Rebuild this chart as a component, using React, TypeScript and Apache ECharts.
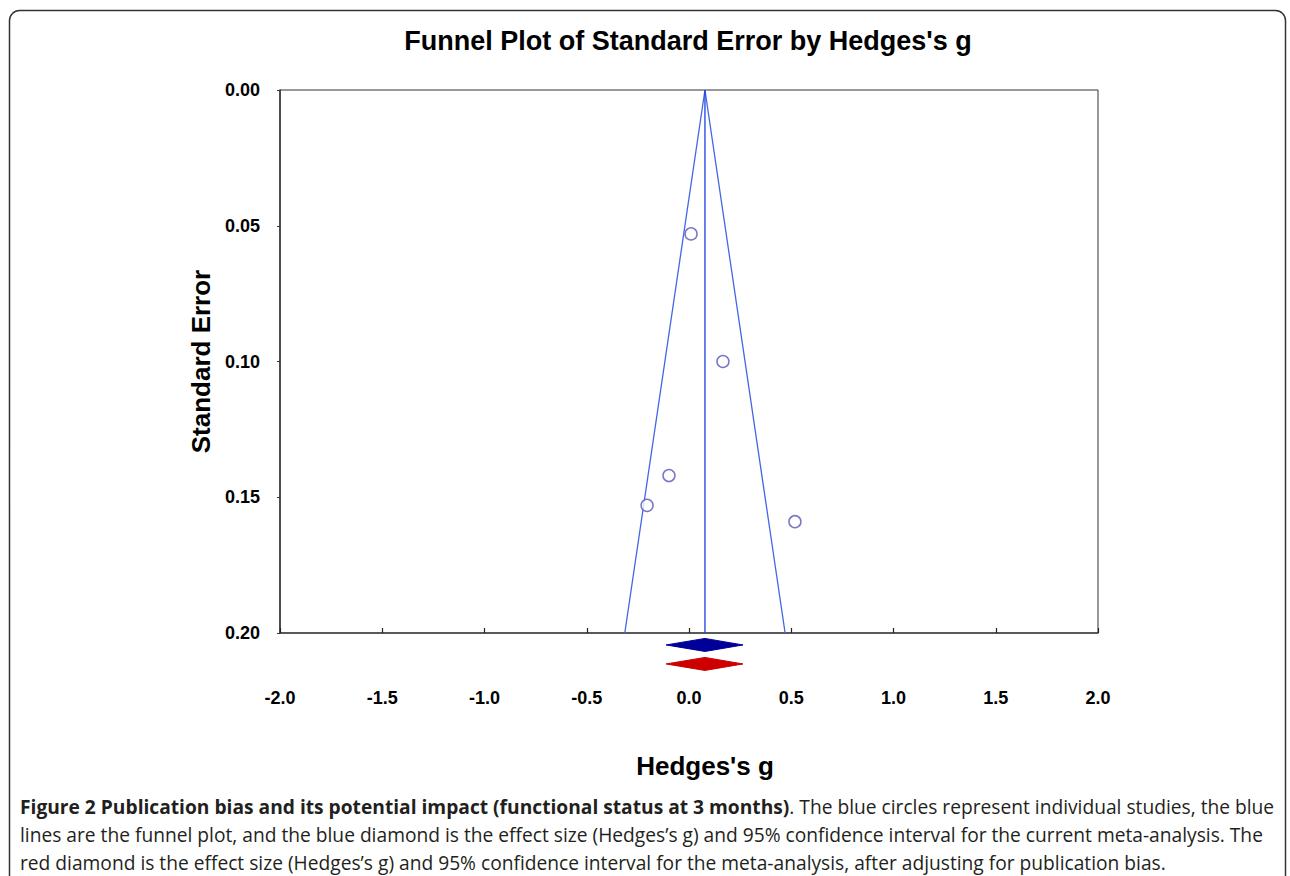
import React, { useEffect, useRef } from "react";
import * as echarts from "echarts";

const titleText = "Funnel Plot of Standard Error by Hedges's g";
const xTicks = [-2, -1.5, -1, -0.5, 0, 0.5, 1, 1.5, 2];
// studies: [Hedges's g, standard error]
const studyG = [0.01, 0.166, -0.098, -0.205, 0.518];
const studySE = [0.053, 0.1, 0.142, 0.153, 0.159];
const pooledG = 0.078;
const funnelSE = 0.2;
// diamonds: [lower, point, upper, row position]
const observedDiamond = [-0.112, 0.078, 0.264, 0.2044];
const adjustedDiamond = [-0.112, 0.078, 0.264, 0.2114];
const captionBold = "Figure 2 Publication bias and its potential impact (functional status at 3 months)";
const captionLines = [
  ". The blue circles represent individual studies, the blue",
  "lines are the funnel plot, and the blue diamond is the effect size (Hedges\u2019s g) and 95% confidence interval for the current meta-analysis. The",
  "red diamond is the effect size (Hedges\u2019s g) and 95% confidence interval for the meta-analysis, after adjusting for publication bias.",
];

export default function App() {
  const ref = useRef<HTMLDivElement>(null);
  useEffect(() => {
    const chart = echarts.init(ref.current!, null, { renderer: "svg" });
    const half = 1.96 * funnelSE;
    const funnelData = [
      [pooledG - half, funnelSE],
      [pooledG, 0],
      [pooledG + half, funnelSE],
    ];
    const axisFont = { fontFamily: "Liberation Sans, Arial, sans-serif", fontWeight: "bold" as const };
    const capFont = 19.2;
    chart.setOption({
      animation: false,
      backgroundColor: "#fff",
      title: {
        text: titleText,
        left: 683,
        top: 22,
        textAlign: "center",
        textStyle: { ...axisFont, fontSize: 27, color: "#000" },
      },
      grid: {
        left: 280,
        top: 90,
        right: 192,
        bottom: 243,
        show: true,
        borderColor: "#333",
        borderWidth: 1,
      },
      xAxis: {
        type: "value",
        min: -2,
        max: 2,
        interval: 0.5,
        name: "Hedges's g",
        nameLocation: "middle",
        nameGap: 120,
        nameTextStyle: { ...axisFont, fontSize: 26, color: "#000", padding: [0, 0, 0, 32] },
        axisLine: { onZero: false, lineStyle: { color: "#444", width: 1.5 } },
        axisTick: { inside: true, length: 5, lineStyle: { color: "#222", width: 1.2 } },
        splitLine: { show: false },
        axisLabel: {
          margin: 56,
          ...axisFont,
          fontSize: 18,
          color: "#000",
          formatter: (v: number) => v.toFixed(1),
        },
      },
      yAxis: {
        type: "value",
        inverse: true,
        min: 0,
        max: 0.2,
        interval: 0.05,
        name: "Standard Error",
        nameLocation: "middle",
        nameGap: 62,
        nameTextStyle: { ...axisFont, fontSize: 26, color: "#000" },
        axisLine: { onZero: false, lineStyle: { color: "#333", width: 1.5 } },
        axisTick: { length: 3, lineStyle: { color: "#333" } },
        splitLine: { show: false },
        axisLabel: {
          margin: 20,
          ...axisFont,
          fontSize: 18,
          color: "#000",
          formatter: (v: number) => v.toFixed(2),
        },
      },
      series: [
        {
          type: "line",
          data: funnelData,
          symbol: "none",
          lineStyle: { color: "#4466e6", width: 1.3 },
          clip: false,
          z: 2,
        },
        {
          type: "line",
          data: [
            [pooledG, 0],
            [pooledG, funnelSE],
          ],
          symbol: "none",
          lineStyle: { color: "#1a3ee6", width: 1.3 },
          z: 2,
        },
        {
          type: "scatter",
          data: studyG.map((g, i) => [g, studySE[i]]),
          symbol: "circle",
          symbolSize: 12,
          itemStyle: { color: "#fff", borderColor: "#5555b5", borderWidth: 1.5 },
          z: 3,
        },
        {
          type: "custom",
          clip: false,
          data: [
            [...observedDiamond, 0],
            [...adjustedDiamond, 1],
          ],
          renderItem: (params: any, api: any) => {
            const lo = api.coord([api.value(0), api.value(3)]);
            const mid = api.coord([api.value(1), api.value(3)]);
            const hi = api.coord([api.value(2), api.value(3)]);
            const h = 6.5;
            const color = api.value(4) === 0 ? "#000099" : "#cc0000";
            return {
              type: "polygon",
              shape: {
                points: [
                  [lo[0], lo[1]],
                  [mid[0], mid[1] - h],
                  [hi[0], hi[1]],
                  [mid[0], mid[1] + h],
                ],
              },
              style: { fill: color, stroke: color },
            };
          },
          z: 4,
        },
      ],
      graphic: [
        {
          type: "rect",
          shape: { x: 9.5, y: 10.5, width: 1276, height: 900, r: 10 },
          style: { fill: "none", stroke: "#333", lineWidth: 1.5 },
          silent: true,
        },
        {
          type: "text",
          x: 20,
          y: 806,
          style: {
            text: "{b|" + captionBold + "}{r|" + captionLines[0] + "}",
            verticalAlign: "middle",
            rich: {
              b: { fontFamily: "Open Sans", fontWeight: "bold", fontSize: capFont, fill: "#231f20" },
              r: { fontFamily: "Open Sans", fontSize: capFont, fill: "#231f20" },
            },
          },
        },
        {
          type: "text",
          x: 20,
          y: 834,
          style: { text: captionLines[1], verticalAlign: "middle", fontFamily: "Open Sans", fontSize: capFont, fill: "#231f20" },
        },
        {
          type: "text",
          x: 20,
          y: 862,
          style: { text: captionLines[2], verticalAlign: "middle", fontFamily: "Open Sans", fontSize: capFont, fill: "#231f20" },
        },
      ],
    });
    return () => chart.dispose();
  }, []);
  return (
    <div
      ref={ref}
      style={{ position: "fixed", left: 0, top: 0, width: 1290, height: 876 }}
    />
  );
}
